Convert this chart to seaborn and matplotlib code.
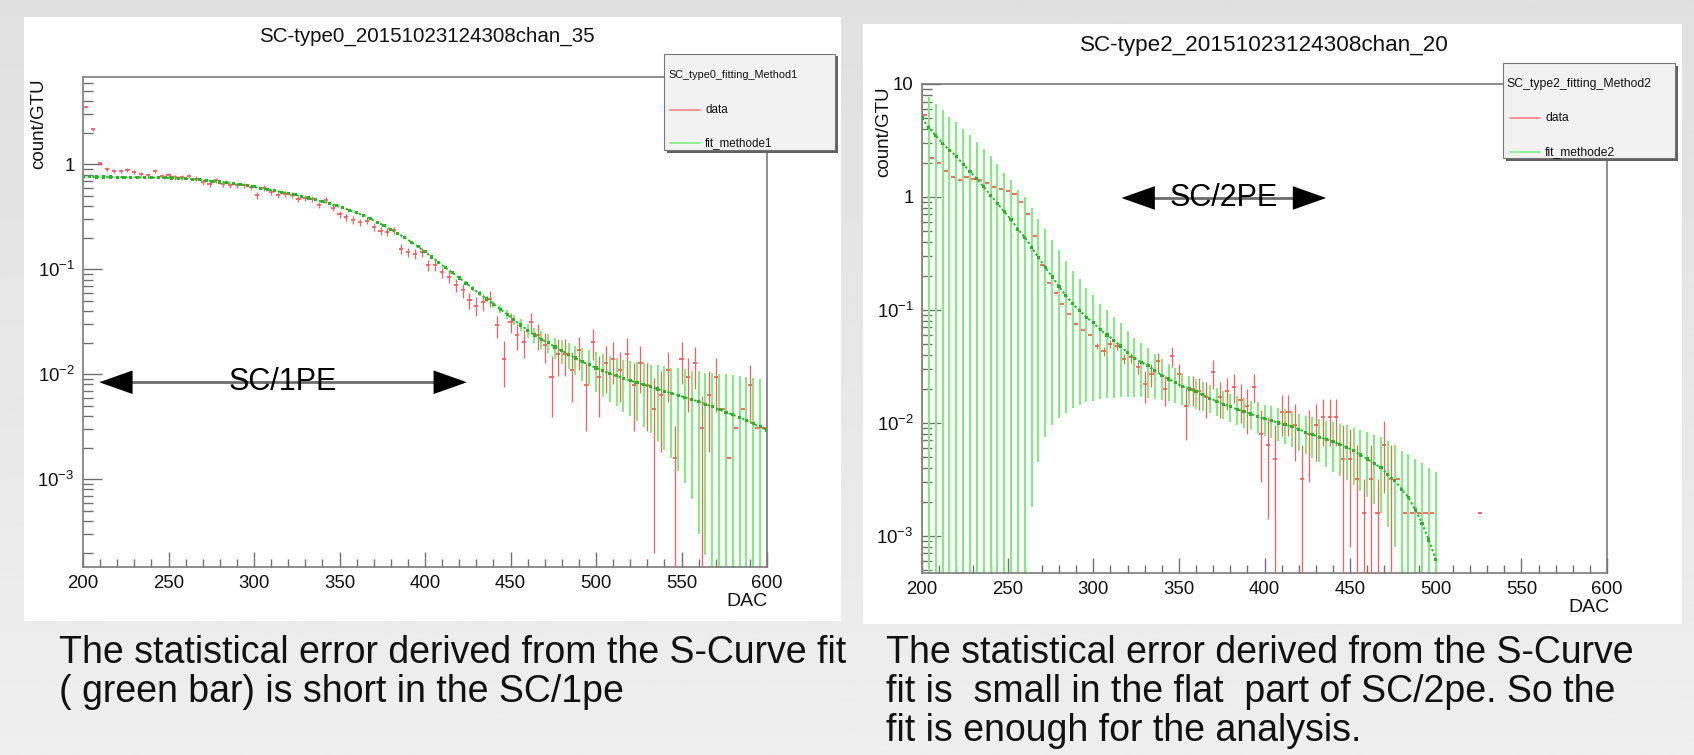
import numpy as np
import pandas as pd
import matplotlib
matplotlib.use("Agg")
import matplotlib.pyplot as plt
import seaborn as sns
from matplotlib.patches import Rectangle
from matplotlib.lines import Line2D
from matplotlib.ticker import LogLocator, NullFormatter, FixedLocator, MultipleLocator
from matplotlib import font_manager as fm

# ---------------- data ----------------
# Left panel: SC-type0 ... chan_35
left_title = "SC-type0_20151023124308chan_35"
left_legend_header = "SC_type0_fitting_Method1"
left_fit_label = "fit_methode1"
left_fit_dac = list(range(200, 601, 4))
left_fit_val = [0.760, 0.760, 0.759, 0.759, 0.758, 0.757, 0.756, 0.755, 0.754, 0.752,
                0.750, 0.748, 0.745, 0.741, 0.736, 0.730, 0.722, 0.713, 0.703, 0.692,
                0.680, 0.668, 0.655, 0.642, 0.627, 0.610, 0.593, 0.577, 0.561, 0.545,
                0.528, 0.512, 0.494, 0.478, 0.460, 0.442, 0.423, 0.404, 0.385, 0.366,
                0.347, 0.327, 0.303, 0.282, 0.261, 0.240, 0.220, 0.201, 0.182, 0.164,
                0.147, 0.131, 0.117, 0.104, 0.0929, 0.0828, 0.0738, 0.0658, 0.0586, 0.0522,
                0.0467, 0.0417, 0.0373, 0.0331, 0.0295, 0.0263, 0.0237, 0.0216, 0.0200, 0.0182,
                0.0168, 0.0155, 0.0143, 0.0132, 0.0123, 0.0115, 0.0108, 0.0102, 0.00966, 0.00912,
                0.00871, 0.00832, 0.00794, 0.00759, 0.00724, 0.00692, 0.00661, 0.00631, 0.00603, 0.00575,
                0.00550, 0.00519, 0.00490, 0.00462, 0.00437, 0.00412, 0.00389, 0.00363, 0.00339, 0.00316,
                0.00295]
left_fit_err = [0.006] * 26 + [0.0055, 0.0055, 0.005, 0.005,
                0.005, 0.005, 0.0048, 0.0046, 0.0045, 0.0044, 0.0042, 0.004, 0.004, 0.0038,
                0.0036, 0.0035, 0.0034, 0.0033, 0.0032, 0.0031, 0.003, 0.003, 0.003, 0.003,
                0.003, 0.003, 0.003, 0.0031, 0.0031, 0.0032, 0.0032, 0.0033, 0.0034, 0.0035,
                0.0036, 0.0037, 0.0038, 0.0038, 0.0039, 0.0039, 0.0040, 0.0040, 0.0041, 0.0041,
                0.0042, 0.0043, 0.0044, 0.0045, 0.0046, 0.0047, 0.0047, 0.0047, 0.0047, 0.0047,
                0.0047, 0.0047, 0.0048, 0.0048, 0.0049, 0.0050, 0.0050, 0.0051, 0.0051, 0.0051,
                0.0052, 0.0050, 0.0054, 0.0055, 0.0056, 0.0057, 0.0057, 0.0058, 0.0058, 0.0058,
                0.0058]
left_data_dac = list(range(202, 599, 4))
left_data_val = [3.5, 2.15, 1.02, 0.90, 0.87, 0.87, 0.88, 0.845, 0.815, 0.785,
                 0.86, 0.775, 0.785, 0.757, 0.75, 0.775, 0.73, 0.68, 0.655, 0.705,
                 0.655, 0.63, 0.63, 0.63, 0.61, 0.51, 0.60, 0.55, 0.51, 0.525,
                 0.51, 0.47, 0.48, 0.47, 0.41, 0.454, 0.386, 0.334, 0.315, 0.297,
                 0.282, 0.292, 0.253, 0.232, 0.226, 0.235, 0.157, 0.146, 0.141, 0.146,
                 0.109, 0.109, 0.094, 0.0846, 0.0705, 0.063, 0.0507, 0.045, 0.049, 0.0526,
                 0.0293, 0.0141, 0.0315, 0.0235, 0.0203, 0.0315, 0.0235, 0.0189, 0.0094, 0.0157,
                 0.0157, 0.0109, 0.0169, 0.0079, 0.0203, 0.0094, 0.0127, 0.0141, 0.0109, 0.0157,
                 0.0079, 0.0127, 0.0079, 0.0047, 0.0063, 0.0109, 0.0016, 0.0141, 0.0094, 0.0127,
                 0.0031, 0.0063, 0.0094, 0.0047, 0.0016, 0.0031, 0.0047, 0.0079, 0.0031, 0.0031]
left_data_err = [0.05, 0.05] + [0.04] * 23 + [0.038, 0.04, 0.038, 0.036, 0.036,
                 0.035, 0.033, 0.033, 0.032, 0.03, 0.03, 0.028, 0.026, 0.025, 0.024,
                 0.023, 0.023, 0.021, 0.02, 0.02, 0.02, 0.016, 0.015, 0.015, 0.015,
                 0.013, 0.013, 0.012, 0.011, 0.010, 0.010, 0.009, 0.009, 0.009, 0.009,
                 0.007, 0.0065, 0.007, 0.0065, 0.006, 0.007, 0.0065, 0.006, 0.0055, 0.006,
                 0.006, 0.0055, 0.006, 0.005, 0.0065, 0.0055, 0.006, 0.006, 0.0055, 0.0065,
                 0.005, 0.006, 0.005, 0.0045, 0.0045, 0.0055, 0.0016, 0.006, 0.005, 0.0055,
                 0.0031, 0.0045, 0.005, 0.0, 0.0, 0.0, 0.0, 0.0045, 0.0, 0.0]

# Right panel: SC-type2 ... chan_20
right_title = "SC-type2_20151023124308chan_20"
right_legend_header = "SC_type2_fitting_Method2"
right_fit_label = "fit_methode2"
right_fit_dac = list(range(200, 501, 4))
right_fit_val = [5.0, 4.1, 3.5, 3.0, 2.6, 2.3, 1.95, 1.68, 1.45, 1.23,
                 1.04, 0.88, 0.74, 0.63, 0.52, 0.44, 0.36, 0.29, 0.238, 0.196,
                 0.162, 0.134, 0.114, 0.099, 0.086, 0.077, 0.067, 0.060, 0.054, 0.048,
                 0.042, 0.0375, 0.0345, 0.032, 0.029, 0.0265, 0.0245, 0.0227, 0.0211, 0.020,
                 0.0189, 0.0177, 0.0166, 0.0156, 0.0147, 0.0139, 0.0132, 0.0126, 0.0120, 0.0114,
                 0.0109, 0.0105, 0.0100, 0.0097, 0.0093, 0.0088, 0.0083, 0.0079, 0.0075, 0.0072,
                 0.0068, 0.0065, 0.0061, 0.0057, 0.0052, 0.0048, 0.0044, 0.0040, 0.0035, 0.0031,
                 0.0026, 0.0022, 0.0017, 0.0013, 0.00092, 0.00062]
right_fit_high = [9.0, 7.6, 6.65, 5.85, 5.15, 4.6, 4.0, 3.53, 3.09, 2.67,
                  2.29, 1.94, 1.64, 1.40, 1.16, 0.99, 0.80, 0.64, 0.52, 0.42,
                  0.34, 0.272, 0.223, 0.188, 0.157, 0.135, 0.114, 0.099, 0.087, 0.076,
                  0.065, 0.0566, 0.0507, 0.0461, 0.0409, 0.0366, 0.0333, 0.0304, 0.0279, 0.0262,
                  0.0246, 0.0230, 0.0216, 0.0203, 0.0191, 0.0181, 0.0173, 0.0166, 0.0158, 0.0152,
                  0.0145, 0.0141, 0.0135, 0.0132, 0.0127, 0.0121, 0.0116, 0.0112, 0.0108, 0.0105,
                  0.0101, 0.0098, 0.0095, 0.0091, 0.0086, 0.0083, 0.0079, 0.0075, 0.0069, 0.0064,
                  0.0057, 0.0053, 0.0048, 0.0044, 0.0040, 0.0037]
right_fit_low = [0.0] * 16 + [0.0018, 0.0045, 0.0075, 0.0096,
                 0.0110, 0.0122, 0.0135, 0.0145, 0.0152, 0.0158, 0.0163, 0.0166, 0.0168, 0.0170,
                 0.0170, 0.0170, 0.0169, 0.0167, 0.0164, 0.0160, 0.0155, 0.0150, 0.0145, 0.0140,
                 0.0134, 0.0128, 0.0122, 0.0115, 0.0108, 0.0102, 0.0096, 0.0091, 0.0086, 0.0081,
                 0.0077, 0.0073, 0.0069, 0.0065, 0.0061, 0.0057, 0.0053, 0.0049, 0.0045, 0.0041,
                 0.0037, 0.0034, 0.0031, 0.0028, 0.0025, 0.0022, 0.0019, 0.0016, 0.0012, 0.0008,
                 0.0, 0.0, 0.0, 0.0, 0.0, 0.0]
right_data_dac = list(range(202, 499, 4)) + [526]
right_data_val = [5.3, 2.2, 2.0, 1.7, 1.5, 1.42, 1.5, 1.45, 1.42, 1.33,
                  1.22, 1.18, 1.12, 1.07, 0.90, 0.70, 0.45, 0.25, 0.175, 0.140,
                  0.112, 0.093, 0.075, 0.066, 0.060, 0.048, 0.043, 0.050, 0.048, 0.037,
                  0.038, 0.031, 0.022, 0.027, 0.035, 0.020, 0.039, 0.027, 0.014, 0.020,
                  0.019, 0.017, 0.028, 0.017, 0.019, 0.021, 0.016, 0.014, 0.021, 0.008,
                  0.0064, 0.0048, 0.0126, 0.0126, 0.0096, 0.0032, 0.0080, 0.0096, 0.0112, 0.0112,
                  0.0112, 0.0048, 0.0048, 0.0032, 0.0016, 0.0032, 0.0016, 0.0064, 0.0032, 0.0032,
                  0.0016, 0.0016, 0.0016, 0.0016, 0.0016,
                  0.0016]
right_data_err = [0.0] * 25 + [0.003, 0.004, 0.004, 0.004, 0.004,
                  0.004, 0.004, 0.007, 0.006, 0.007, 0.006, 0.008, 0.006, 0.007, 0.006,
                  0.006, 0.006, 0.008, 0.006, 0.006, 0.006, 0.006, 0.006, 0.006, 0.005,
                  0.005, 0.0048, 0.005, 0.005, 0.005, 0.0032, 0.005, 0.005, 0.005, 0.005,
                  0.005, 0.0048, 0.004, 0.0032, 0.0016, 0.0032, 0.0016, 0.004, 0.0032, 0.0,
                  0.0, 0.0, 0.0, 0.0, 0.0,
                  0.0]

x_ticks = [200, 250, 300, 350, 400, 450, 500, 550, 600]
left_yticks = [1e-3, 1e-2, 1e-1, 1]
left_yticklabels = [r"$\mathregular{10^{-3}}$", r"$\mathregular{10^{-2}}$", r"$\mathregular{10^{-1}}$", "1"]
right_yticks = [1e-3, 1e-2, 1e-1, 1, 10]
right_yticklabels = [r"$\mathregular{10^{-3}}$", r"$\mathregular{10^{-2}}$", r"$\mathregular{10^{-1}}$", "1", "10"]

left_caption = ["The statistical error derived from the S-Curve fit",
                "( green bar) is short in the SC/1pe"]
right_caption = ["The statistical error derived from the S-Curve",
                 "fit is  small in the flat  part of SC/2pe. So the",
                 "fit is enough for the analysis."]

# ---------------- style ----------------
sns.set_theme(style="white")
names = {f.name for f in fm.fontManager.ttflist}
NARROW = "Liberation Sans Narrow" if "Liberation Sans Narrow" in names else "Liberation Sans"
REG = "Liberation Sans"
plt.rcParams["font.family"] = [NARROW, "DejaVu Sans"]
plt.rcParams["mathtext.fontset"] = "custom"
plt.rcParams["mathtext.rm"] = NARROW
plt.rcParams["mathtext.it"] = NARROW
plt.rcParams["mathtext.bf"] = NARROW
plt.rcParams["axes.unicode_minus"] = True

RED = "#ff5c5c"
GREEN_BAR = "#7cef7c"
GREEN_DOT = "#22b822"
FRAME = "#7a7a7a"

W, H = 1694, 755


def fx(px):
    return px / W


def fy(py):
    return 1 - py / H


fig = plt.figure(figsize=(W / 100, H / 100), dpi=100)

# slide background (soft vertical gradient)
bg = fig.add_axes([0, 0, 1, 1], zorder=-10)
grad = np.linspace(0.878, 0.935, 256).reshape(-1, 1)
bg.imshow(grad, aspect="auto", cmap="gray", vmin=0, vmax=1, extent=[0, 1, 0, 1], origin="upper")
bg.axis("off")

# white canvases
for (x0, y0, x1, y1) in [(24, 17, 841, 621), (863, 24, 1682, 624)]:
    fig.add_artist(Rectangle((fx(x0), fy(y1)), (x1 - x0) / W, (y1 - y0) / H,
                             transform=fig.transFigure, fc="white", ec="none", zorder=-5))


def draw_panel(ax, ylim, yticks, yticklabels, fit_df, data_df, fit_low, fit_high):
    ax.set_facecolor("white")
    ax.set_yscale("log")
    # fit error bars (green)
    lo = np.where(fit_low > 0, fit_low, 1e-9)
    ax.vlines(fit_df["dac"], lo, fit_high, color=GREEN_BAR, lw=1.5, zorder=2)
    # data error bars (red)
    dlo = data_df["val"] - data_df["err"]
    dlo = np.where(dlo > 0, dlo, 1e-9)
    dhi = data_df["val"] + data_df["err"]
    has_err = data_df["err"] > 0
    ax.vlines(data_df["dac"][has_err], dlo[has_err], dhi[has_err], color=RED, lw=0.9, zorder=3)
    ax.hlines(data_df["val"], data_df["dac"] - 1.2, data_df["dac"] + 1.2, color=RED, lw=1.3, zorder=3)
    # fit points
    sns.lineplot(data=fit_df, x="dac", y="val", ax=ax, color=GREEN_DOT, lw=1.4,
                 linestyle=(0, (1.2, 1.2)), zorder=4, legend=False)
    sns.scatterplot(data=fit_df, x="dac", y="val", ax=ax, color=GREEN_DOT, marker="s", s=5,
                    edgecolor="none", zorder=5, legend=False)
    ax.set_xlim(200, 600)
    ax.set_ylim(*ylim)
    ax.set_xlabel("")
    ax.set_ylabel("")
    ax.xaxis.set_major_locator(FixedLocator(x_ticks))
    ax.xaxis.set_minor_locator(MultipleLocator(10))
    ax.set_xticks(x_ticks)
    ax.set_xticklabels([str(t) for t in x_ticks])
    ax.yaxis.set_minor_locator(LogLocator(base=10, subs=np.arange(2, 10), numticks=20))
    ax.yaxis.set_minor_formatter(NullFormatter())
    ax.set_yticks(yticks)
    ax.set_yticklabels(yticklabels)
    ax.tick_params(axis="x", which="major", direction="in", length=11, width=1, color="#707070",
                   labelsize=13.4, pad=6, bottom=True, top=False)
    ax.tick_params(axis="x", which="minor", direction="in", length=5.5, width=1, color="#707070",
                   bottom=True, top=False)
    ax.tick_params(axis="y", which="major", direction="in", length=14, width=1, color="#707070",
                   labelsize=13.4, pad=6, left=True, right=False)
    ax.tick_params(axis="y", which="minor", direction="in", length=7, width=1, color="#707070",
                   left=True, right=False)
    for lab in ax.get_xticklabels() + ax.get_yticklabels():
        lab.set_color("#111111")
    for sp in ax.spines.values():
        sp.set_color(FRAME)
        sp.set_linewidth(1.2)
        sp.set_visible(True)


def pe_arrow(ax, x0, x1, y, label):
    ax.plot([x0 + 3, x1 - 3], [y, y], color="#6c6c6c", lw=2.0, zorder=6, solid_capstyle="butt")
    ax.annotate("", xy=(x1, y), xytext=(x0, y),
                arrowprops=dict(arrowstyle="<|-|>,head_length=24,head_width=8.5", mutation_scale=1,
                                fc="black", ec="black", lw=0, shrinkA=0, shrinkB=0), zorder=7)
    ax.text((x0 + x1) / 2, y, label, ha="center", va="center", fontsize=22, family=REG,
            color="black", zorder=8)


def root_legend(box, header, hx, hy, rows, lx0, lx1, tx, hfs, lfs):
    x0, y0, x1, y1 = box
    fig.add_artist(Rectangle((fx(x0 + 2.5), fy(y1 + 2.5)), (x1 - x0) / W, (y1 - y0) / H,
                             transform=fig.transFigure, fc="#606060", ec="none", zorder=6))
    fig.add_artist(Rectangle((fx(x0), fy(y1)), (x1 - x0) / W, (y1 - y0) / H,
                             transform=fig.transFigure, fc="#f2f2f2", ec="#777777", lw=0.8, zorder=7))
    fig.text(fx(hx), fy(hy), header, ha="left", va="center", fontsize=hfs, color="#111111", zorder=8)
    for yy, lab, col in rows:
        fig.add_artist(Line2D([fx(lx0), fx(lx1)], [fy(yy), fy(yy)], transform=fig.transFigure,
                              color=col, lw=1.3, zorder=8))
        fig.text(fx(tx), fy(yy), lab, ha="left", va="center", fontsize=lfs, color="#111111", zorder=8)


# ---------------- left panel ----------------
axL = fig.add_axes([fx(83), fy(567), 684 / W, 490 / H])
left_fit_df = pd.DataFrame({"dac": left_fit_dac, "val": left_fit_val, "err": left_fit_err})
left_data_df = pd.DataFrame({"dac": left_data_dac, "val": left_data_val, "err": left_data_err})
draw_panel(axL, (1.46e-4, 6.8), left_yticks, left_yticklabels, left_fit_df, left_data_df,
           (left_fit_df["val"] - left_fit_df["err"]).to_numpy(),
           (left_fit_df["val"] + left_fit_df["err"]).to_numpy())
pe_arrow(axL, 209.5, 424.5, 0.0084, "SC/1PE")

# ---------------- right panel ----------------
axR = fig.add_axes([fx(922), fy(573), 685 / W, 489 / H])
right_fit_df = pd.DataFrame({"dac": right_fit_dac, "val": right_fit_val})
right_data_df = pd.DataFrame({"dac": right_data_dac, "val": right_data_val, "err": right_data_err})
draw_panel(axR, (4.7e-4, 10), right_yticks, right_yticklabels, right_fit_df, right_data_df,
           np.array(right_fit_low), np.array(right_fit_high))
pe_arrow(axR, 316.5, 436.0, 0.98, "SC/2PE")

# ---------------- texts ----------------
fig.text(fx(427), fy(36), left_title, ha="center", va="center", fontsize=14.8, color="#111111")
fig.text(fx(1264), fy(45), right_title, ha="center", va="center", fontsize=16.2, color="#111111")

fig.text(fx(39), fy(124), "count/GTU", rotation=90, ha="center", va="center", fontsize=13.5,
         family=REG, color="#111111")
fig.text(fx(884), fy(132), "count/GTU", rotation=90, ha="center", va="center", fontsize=13.5,
         family=REG, color="#111111")

fig.text(fx(767), fy(601), "DAC", ha="right", va="center", fontsize=14, color="#111111")
fig.text(fx(1609), fy(608), "DAC", ha="right", va="center", fontsize=14, color="#111111")

root_legend((664, 54, 835, 150), left_legend_header, 668, 75,
            [(110, "data", "#ff8a8a"), (143, left_fit_label, "#8cf08c")], 670, 700, 705, 7.8, 8.4)
root_legend((1503, 63, 1675, 158), right_legend_header, 1506, 84,
            [(118, "data", "#ff8a8a"), (152, right_fit_label, "#8cf08c")], 1510, 1540, 1545, 8.8, 8.7)

for i, line in enumerate(left_caption):
    fig.text(fx(59), fy(653 + 39 * i), line, ha="left", va="center", fontsize=27, family=REG,
             color="#111111")
for i, line in enumerate(right_caption):
    fig.text(fx(886), fy(653 + 39 * i), line, ha="left", va="center", fontsize=27, family=REG,
             color="#111111")

fig.savefig("out.png", dpi=100)
